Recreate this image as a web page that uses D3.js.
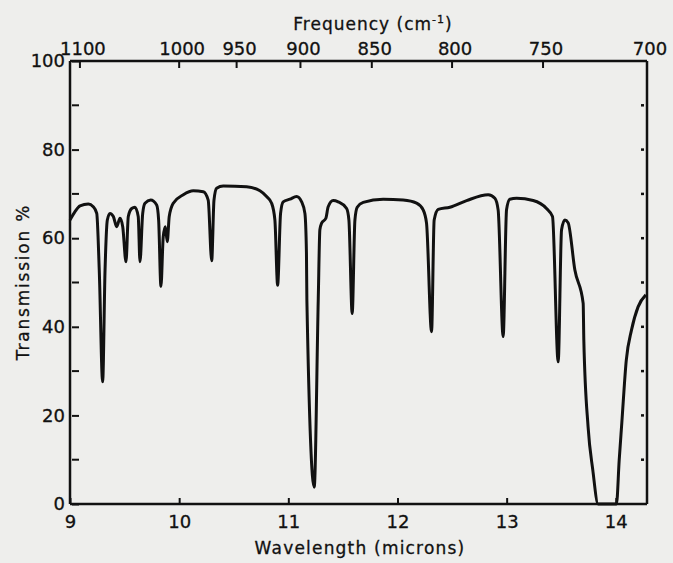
<!DOCTYPE html>
<html lang="en">
<head>
    <meta charset="UTF-8">
    <title>Transmission spectrum</title>
    <script src="https://d3js.org/d3.v7.min.js"></script>
    <style>
        body { margin: 0; background: #eeeeec; }
        text { font-family: "DejaVu Sans", sans-serif; fill: #111; stroke: #111; stroke-width: 0.3px; }
    </style>
</head>
<body>
    <div id="chart"></div>
    <script>
        // spectrum: wavelength (microns) and transmission (%)
        var wavelength = [9.000, 9.046, 9.092, 9.168, 9.213, 9.245, 9.268, 9.299, 9.321, 9.342,
            9.366, 9.397, 9.428, 9.458, 9.483, 9.513, 9.534, 9.565, 9.595, 9.625,
            9.641, 9.666, 9.687, 9.739, 9.794, 9.812, 9.833, 9.854, 9.873, 9.891,
            9.909, 9.946, 10.038, 10.129, 10.221, 10.266, 10.298, 10.319, 10.343, 10.404,
            10.618, 10.740, 10.801, 10.847, 10.877, 10.902, 10.929, 10.953, 11.015, 11.076,
            11.122, 11.152, 11.166, 11.170, 11.237, 11.274, 11.289, 11.305, 11.344, 11.365,
            11.411, 11.457, 11.534, 11.555, 11.585, 11.610, 11.631, 11.686, 11.869, 12.052,
            12.175, 12.235, 12.266, 12.312, 12.336, 12.373, 12.480, 12.633, 12.831, 12.892,
            12.922, 12.968, 12.999, 13.029, 13.091, 13.243, 13.365, 13.420, 13.472, 13.503,
            13.533, 13.563, 13.625, 13.701, 13.707, 13.746, 13.789, 13.838, 14.006, 14.031,
            14.055, 14.096, 14.144, 14.204, 14.275];
        var transmission = [64.1, 66.0, 67.3, 67.7, 67.1, 65.6, 52.8, 27.6, 52.8, 64.1,
            65.6, 64.9, 62.6, 64.5, 62.6, 54.7, 64.9, 66.7, 67.0, 64.9,
            54.7, 65.6, 67.9, 68.6, 67.5, 64.1, 49.1, 60.3, 62.6, 59.2,
            64.9, 67.9, 69.8, 70.7, 70.5, 68.6, 54.9, 68.6, 71.3, 71.8,
            71.6, 70.7, 69.4, 67.9, 64.1, 49.4, 65.6, 68.2, 68.8, 69.4,
            68.2, 65.6, 56.7, 46.0, 3.8, 46.0, 61.9, 63.4, 64.5, 67.1,
            68.5, 68.2, 66.7, 64.1, 43.0, 64.1, 67.0, 68.1, 68.8, 68.6,
            67.9, 66.4, 63.4, 38.9, 64.1, 66.5, 67.0, 68.5, 69.8, 69.0,
            66.4, 37.8, 66.4, 68.8, 69.0, 68.5, 66.7, 64.9, 32.1, 61.9,
            64.1, 63.5, 52.8, 45.3, 37.0, 17.4, 7.7, 0, 0, 9.9,
            18.3, 32.5, 39.3, 44.5, 47.2];

        var waveTicks = [9, 10, 11, 12, 13, 14];
        var freqTicks = [1100, 1000, 950, 900, 850, 800, 750, 700];
        var transTicks = [0, 20, 40, 60, 80, 100];
        var transMinor = [10, 30, 50, 70, 90];

        var data = wavelength.map(function (w, i) {
            return { w: w, t: transmission[i] };
        });

        var svg = d3.select("#chart")
            .append("svg")
            .attr("width", 673)
            .attr("height", 563);

        var x = d3.scaleLinear()
            .domain([9, 10000 / 700])
            .range([70, 647]);
        var y = d3.scaleLinear()
            .domain([0, 100])
            .range([504, 61]);

        // frame
        var frame = svg.append("g")
            .attr("fill", "none")
            .attr("stroke", "#111")
            .attr("stroke-width", 2.5);
        frame.append("line").attr("x1", x(9)).attr("x2", x(10000 / 700)).attr("y1", y(0)).attr("y2", y(0));
        frame.append("line").attr("x1", x(9)).attr("x2", x(10000 / 700)).attr("y1", y(100)).attr("y2", y(100));
        frame.append("line").attr("x1", x(9)).attr("x2", x(9)).attr("y1", y(0)).attr("y2", y(100));
        frame.append("line").attr("x1", x(10000 / 700)).attr("x2", x(10000 / 700)).attr("y1", y(0)).attr("y2", y(100));

        // bottom axis (wavelength)
        var bottomAxis = svg.append("g")
            .attr("transform", "translate(0," + y(0) + ")")
            .call(d3.axisBottom(x).tickValues(waveTicks).tickSize(-6).tickPadding(10).tickFormat(d3.format("d")));
        bottomAxis.select(".domain").remove();
        bottomAxis.selectAll("line").attr("stroke", "#111").attr("stroke-width", 2);
        bottomAxis.selectAll("text").style("font-size", "18px").attr("dy", "0.75em");

        // top axis (frequency)
        var xf = function (f) { return x(10000 / f); };
        var topAxis = svg.append("g").attr("transform", "translate(0," + y(100) + ")");
        topAxis.selectAll("line")
            .data(freqTicks.slice(0, -1))
            .enter().append("line")
            .attr("x1", xf).attr("x2", xf)
            .attr("y1", 0).attr("y2", 7)
            .attr("stroke", "#111").attr("stroke-width", 2);
        topAxis.selectAll("text")
            .data(freqTicks)
            .enter().append("text")
            .attr("x", function (d) { return xf(d) + 3; })
            .attr("y", -6)
            .attr("text-anchor", "middle")
            .style("font-size", "18px")
            .text(function (d) { return d; });

        // left axis
        var leftAxis = svg.append("g")
            .attr("transform", "translate(" + x(9) + ",0)")
            .call(d3.axisLeft(y).tickValues(transTicks).tickSize(-9).tickPadding(5));
        leftAxis.select(".domain").remove();
        leftAxis.selectAll("line").attr("stroke", "#111").attr("stroke-width", 2).attr("x1", 2);
        leftAxis.selectAll("text").style("font-size", "18px");
        leftAxis.selectAll(".minor")
            .data(transMinor)
            .enter().append("line")
            .attr("x1", 2).attr("x2", 9)
            .attr("y1", y).attr("y2", y)
            .attr("stroke", "#111").attr("stroke-width", 2);

        // right axis: small dots
        svg.append("g").selectAll("line")
            .data(d3.range(10, 100, 10))
            .enter().append("line")
            .attr("x1", x(10000 / 700) - 6).attr("x2", x(10000 / 700) - 3)
            .attr("y1", y).attr("y2", y)
            .attr("stroke", "#111").attr("stroke-width", 2.5);

        // spectrum
        var line = d3.line()
            .x(function (d) { return x(d.w); })
            .y(function (d) { return y(d.t); })
            .curve(d3.curveMonotoneX);
        svg.append("path")
            .datum(data)
            .attr("fill", "none")
            .attr("stroke", "#111")
            .attr("stroke-width", 3)
            .attr("stroke-linejoin", "round")
            .attr("d", line);

        // titles
        svg.append("text")
            .attr("x", 373)
            .attr("y", 30)
            .attr("text-anchor", "middle")
            .style("font-size", "17px")
            .style("letter-spacing", "1px")
            .html("Frequency (cm<tspan dy='-7' style='font-size:11px'>-1</tspan><tspan dy='7'>)</tspan>");

        svg.append("text")
            .attr("x", 360)
            .attr("y", 554)
            .attr("text-anchor", "middle")
            .style("font-size", "17px")
            .style("letter-spacing", "1.2px")
            .text("Wavelength (microns)");

        svg.append("text")
            .attr("transform", "rotate(-90)")
            .attr("x", -282)
            .attr("y", 29)
            .attr("text-anchor", "middle")
            .style("font-size", "17px")
            .style("letter-spacing", "1.8px")
            .text("Transmission %");
    </script>
</body>
</html>
